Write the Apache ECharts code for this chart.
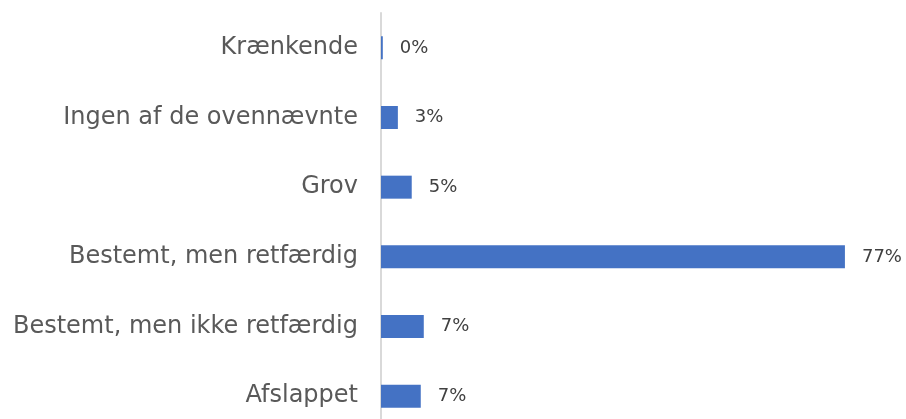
<!DOCTYPE html>
<html>
<head>
<meta charset="utf-8">
<script src="https://cdn.jsdelivr.net/npm/echarts@6/dist/echarts.min.js"></script>
<style>
  html, body { margin: 0; padding: 0; background: #ffffff; }
  #chart { width: 906px; height: 419px; }
</style>
</head>
<body>
<div id="chart"></div>
<script>
// Answer categories, listed bottom to top
const categories = [
  'Afslappet',
  'Bestemt, men ikke retfærdig',
  'Bestemt, men retfærdig',
  'Grov',
  'Ingen af de ovennævnte',
  'Krænkende'
];
// Share of respondents in percent
const shares = [6.6, 7.1, 77.0, 5.1, 2.8, 0.3];

const chart = echarts.init(document.getElementById('chart'), null, { renderer: 'canvas' });

chart.setOption({
  animation: false,
  backgroundColor: '#ffffff',
  // the plot runs a little past the bottom edge, so the last band is cut off
  grid: {
    left: 381, right: 43, top: 13, height: 418,
    containLabel: false,
    outerBoundsMode: 'none'
  },
  xAxis: {
    type: 'value',
    min: 0,
    max: 80,
    show: false
  },
  yAxis: {
    type: 'category',
    data: categories,
    axisLine: { show: true, lineStyle: { color: '#d9d9d9', width: 2 } },
    axisTick: { show: false },
    axisLabel: {
      color: '#595959',
      fontFamily: 'DejaVu Sans',
      fontSize: 24,
      margin: 23
    }
  },
  series: [{
    type: 'bar',
    data: shares,
    barWidth: 23,
    itemStyle: { color: '#4472c4' },
    label: {
      show: true,
      position: 'right',
      distance: 17,
      color: '#404040',
      fontFamily: 'DejaVu Sans',
      fontSize: 18,
      formatter: p => Math.round(p.value) + '%'
    }
  }]
});
</script>
</body>
</html>
